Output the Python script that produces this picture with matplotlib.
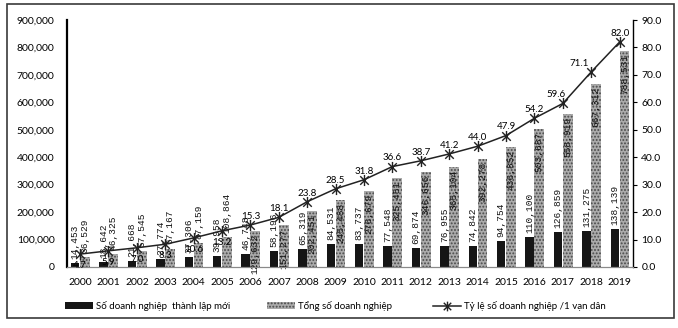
import matplotlib.pyplot as plt
import numpy as np
from matplotlib.patches import Patch, Rectangle
from matplotlib.lines import Line2D
from matplotlib.path import Path

plt.rcParams['font.family'] = ['Lato', 'DejaVu Sans']
plt.rcParams['hatch.linewidth'] = 0.9

years = [str(y) for y in range(2000, 2020)]
# so doanh nghiep thanh lap moi
new_firms = [14453, 18642, 21668, 27774, 37306, 39958, 46748, 58196, 65319, 84531,
             83737, 77548, 69874, 76955, 74842, 94754, 110100, 126859, 131275, 138139]
# tong so doanh nghiep
total_firms = [36529, 46325, 57545, 67167, 87159, 108864, 129632, 151277, 202451, 245488,
               276679, 325451, 346656, 365104, 392278, 436852, 503687, 558919, 667312, 788531]
# ty le doanh nghiep / 1 van dan
per_10k = [4.7, 5.9, 7.0, 8.3, 10.6, 13.2, 15.3, 18.1, 23.8, 28.5,
           31.8, 36.6, 38.7, 41.2, 44.0, 47.9, 54.2, 59.6, 71.1, 82.0]

W, H = 678, 328
fig = plt.figure(figsize=(W / 100, H / 100), dpi=100)
ax = fig.add_axes([67 / W, 1 - 267 / H, (633 - 67) / W, (267 - 20) / H])
ax2 = ax.twinx()

x = np.arange(len(years))
ax.bar(x - 0.17, new_firms, 0.30, color='#151515', zorder=2)
ax.bar(x + 0.17, total_firms, 0.34, color='#ababab', edgecolor='#4a4a4a',
       hatch='.....', linewidth=0, zorder=2)

lab_font = dict(family=['Liberation Mono', 'DejaVu Sans Mono'], fontsize=6.8,
                rotation=90, color='#111111')
for i in range(len(years)):
    ax.annotate('{:,}'.format(new_firms[i]), (x[i] - 0.17, new_firms[i]),
                xytext=(0, 3), textcoords='offset points', ha='center', va='bottom',
                zorder=5, **lab_font)
    if i < 6:
        ax.annotate('{:,}'.format(total_firms[i]), (x[i] + 0.17, total_firms[i]),
                    xytext=(0, 3), textcoords='offset points', ha='center',
                    va='bottom', zorder=5, **lab_font)
    else:
        ax.annotate('{:,}'.format(total_firms[i]), (x[i] + 0.17, total_firms[i]),
                    xytext=(0, -2), textcoords='offset points', ha='center',
                    va='top', zorder=5, **lab_font)

ax.set_xlim(-0.46, 19.47)
ax.set_ylim(0, 900000)
ax.set_yticks(np.arange(0, 900001, 100000))
ax.set_yticklabels(['{:,}'.format(v) for v in range(0, 900001, 100000)])
ax.set_xticks(x)
ax.set_xticklabels(years)
ax.tick_params(axis='y', length=0, pad=9, labelsize=7.5)
ax.tick_params(axis='x', length=0, pad=8, labelsize=7.5)

# star marker: X with a vertical stroke
star = Path([(-1, -1), (1, 1), (-1, 1), (1, -1), (0, -1.3), (0, 1.3)],
            [Path.MOVETO, Path.LINETO, Path.MOVETO, Path.LINETO, Path.MOVETO, Path.LINETO])
ax2.plot(x, per_10k, color='#222222', lw=1.1, marker=star, ms=8, mew=1.0,
         mfc='none', mec='#222222', zorder=4)
shift = {17: -5, 18: -9}
for i, v in enumerate(per_10k):
    if i < 6:
        ax2.annotate('{:.1f}'.format(v), (x[i], v), xytext=(0, -5),
                     textcoords='offset points', ha='center', va='top', fontsize=7)
    else:
        ax2.annotate('{:.1f}'.format(v), (x[i], v), xytext=(shift.get(i, 0), 3),
                     textcoords='offset points', ha='center', va='bottom', fontsize=7)
ax2.set_ylim(0, 90)
ax2.set_yticks(np.arange(0, 91, 10))
ax2.set_yticklabels(['{:.1f}'.format(v) for v in range(0, 91, 10)])
ax2.tick_params(axis='y', length=3, width=0.8, pad=3, labelsize=7.5)

for a in (ax, ax2):
    a.spines['top'].set_visible(False)
    a.spines['bottom'].set_color('#8a8a8a')
ax.spines['left'].set_linewidth(1.6)
ax.spines['right'].set_visible(False)
ax2.spines['left'].set_visible(False)
ax2.spines['right'].set_linewidth(1.0)

# legend entries, one per series
entries = [
    (Patch(facecolor='#151515'), 'Số doanh nghiệp  thành lập mới', 65),
    (Patch(facecolor='#ababab', edgecolor='#4a4a4a', hatch='.....', linewidth=0),
     'Tổng số doanh nghiệp', 267),
    (Line2D([], [], color='#222222', lw=1.1, marker=star, ms=7, mew=1.0),
     'Tỷ lệ số doanh nghiệp /1 vạn dân', 433),
]
for h, t, px in entries:
    fig.legend([h], [t], loc='center left', bbox_to_anchor=(px / W, 1 - 306 / H),
               frameon=False, fontsize=7, handlelength=2.9, handleheight=0.6,
               handletextpad=0.3, borderpad=0, borderaxespad=0)

fig.patches.append(Rectangle((7 / W, 1 - 318 / H), (674 - 7) / W, (318 - 4) / H,
                             transform=fig.transFigure, fill=False,
                             edgecolor='#3a3a3a', lw=1.2))

fig.savefig('out.png', dpi=100)
